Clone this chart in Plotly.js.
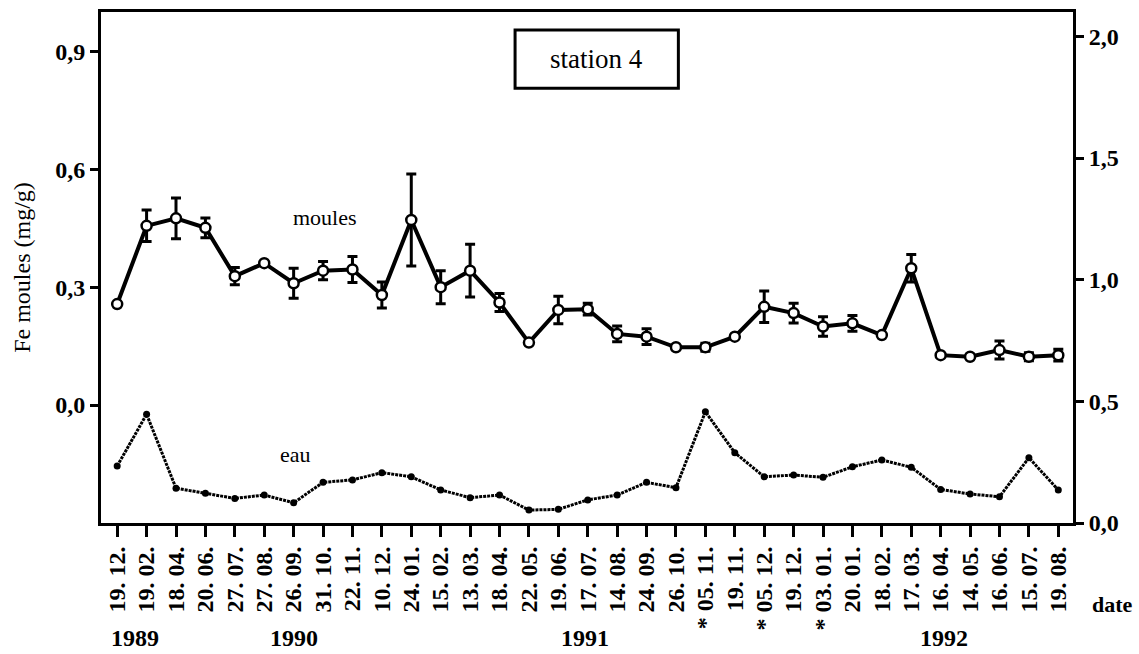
<!DOCTYPE html>
<html>
<head>
<meta charset="utf-8">
<script src="https://cdn.plot.ly/plotly-3.0.1.min.js"></script>
<style>html,body{margin:0;padding:0;background:#fff;}#chart{width:1139px;height:654px;}</style>
</head>
<body>
<div id="chart"></div>
<script>
// Sampling dates (tick labels), in order
const dates = ["19. 12.","19. 02.","18. 04.","20. 06.","27. 07.","27. 08.","26. 09.","31. 10.","22. 11.","10. 12.",
  "24. 01.","15. 02.","13. 03.","18. 04.","22. 05.","19. 06.","17. 07.","14. 08.","24. 09.","26. 10.",
  "* 05. 11.","19. 11.","* 05. 12.","19. 12.","* 03. 01.","20. 01.","18. 02.","17. 03.","16. 04.","14. 05.",
  "16. 06.","15. 07.","19. 08."];
// Fe in mussels (mg/g), left axis
const moules = [0.257,0.456,0.475,0.451,0.328,0.361,0.31,0.342,0.345,0.28,
  0.471,0.30,0.342,0.261,0.159,0.242,0.244,0.181,0.174,0.147,
  0.147,0.174,0.25,0.234,0.20,0.208,0.178,0.348,0.127,0.123,
  0.14,0.123,0.127];
const moulesErr = [0,0.04,0.052,0.025,0.022,0,0.038,0.023,0.033,0.033,
  0.117,0.042,0.067,0.023,0,0.035,0.015,0.02,0.02,0,
  0.01,0,0.04,0.025,0.025,0.02,0,0.035,0,0,
  0.023,0.01,0.015];
// Fe in water, right axis
const eau = [0.234,0.447,0.143,0.122,0.101,0.115,0.083,0.167,0.177,0.207,
  0.19,0.136,0.104,0.115,0.053,0.056,0.095,0.115,0.167,0.145,
  0.457,0.289,0.19,0.197,0.188,0.231,0.259,0.229,0.138,0.119,
  0.108,0.268,0.136];
const leftTicks = [0, 0.3, 0.6, 0.9];
const leftTickText = ["0,0","0,3","0,6","0,9"];
const rightTicks = [0, 0.5, 1.0, 1.5, 2.0];
const rightTickText = ["0,0","0,5","1,0","1,5","2,0"];
const years = ["1989","1990","1991","1992"];
const yearPos = [0.6, 6.0, 15.9, 28.1];

const xIdx = dates.map((d, i) => i);
const FONT = "Liberation Serif, Times New Roman, serif";

const traces = [
  {
    x: xIdx, y: moules, yaxis: "y", type: "scatter", mode: "lines+markers",
    line: {color: "#000", width: 4},
    marker: {symbol: "circle", size: 10, color: "#fff", line: {color: "#000", width: 2.5}},
    error_y: {type: "data", array: moulesErr, visible: true, color: "#000", thickness: 3, width: 5},
    showlegend: false, cliponaxis: false
  },
  {
    x: xIdx, y: eau, yaxis: "y2", type: "scatter", mode: "lines+markers",
    line: {color: "#000", width: 3, dash: "3px,1px"},
    marker: {symbol: "circle", size: 7, color: "#000"},
    showlegend: false, cliponaxis: false
  }
];

function ann(xref, yref, x, y, text, size, bold, yanchor) {
  return {xref: xref, yref: yref, x: x, y: y, text: text, showarrow: false,
    xanchor: "center", yanchor: yanchor || "middle",
    font: {family: FONT, size: size, color: "#000", weight: bold ? "bold" : "normal"}};
}
const annotations = [
  ann("x", "y", 7.07, 0.476, "moules", 22, false),
  ann("x", "y2", 6.05, 0.28, "eau", 22, false),
  ann("paper", "paper", 0.510, 0.908, "station 4", 27, false),
  ann("paper", "paper", 1.041, -0.160, "date", 22, true)
];
years.forEach((yr, i) => {
  annotations.push(ann("x", "paper", yearPos[i], -0.2545, yr, 24, true, "bottom"));
});

const layout = {
  width: 1139, height: 654,
  margin: {l: 101, r: 66, t: 12, b: 131},
  paper_bgcolor: "#fff", plot_bgcolor: "#fff",
  font: {family: FONT, color: "#000"},
  xaxis: {
    range: [-0.55, 32.5], tickmode: "array", tickvals: xIdx, ticktext: dates,
    tickangle: -90, tickfont: {family: FONT, size: 24, color: "#000", weight: "bold"},
    showgrid: false, zeroline: false, showline: true, mirror: true, linecolor: "#000", linewidth: 3,
    ticks: "outside", ticklen: 11, tickwidth: 3, tickcolor: "#000", automargin: false
  },
  yaxis: {
    range: [-0.3, 1.0], tickmode: "array", tickvals: leftTicks, ticktext: leftTickText,
    tickfont: {family: FONT, size: 24, color: "#000", weight: "bold"},
    showgrid: false, zeroline: false, showline: true, linecolor: "#000", linewidth: 3,
    ticks: "outside", ticklen: 8, tickwidth: 3, tickcolor: "#000", automargin: false,
    title: {text: "Fe moules (mg/g)", font: {family: FONT, size: 24, color: "#000"}, standoff: 18}
  },
  yaxis2: {
    range: [0, 2.1], overlaying: "y", side: "right", tickmode: "array",
    tickvals: rightTicks, ticktext: rightTickText,
    tickfont: {family: FONT, size: 24, color: "#000", weight: "bold"},
    showgrid: false, zeroline: false, showline: true, linecolor: "#000", linewidth: 3,
    ticks: "outside", ticklen: 8, tickwidth: 3, tickcolor: "#000", automargin: false
  },
  shapes: [
    {type: "rect", xref: "paper", yref: "paper", x0: 0.426, x1: 0.594, y0: 0.851, y1: 0.965,
     line: {color: "#000", width: 3}, fillcolor: "rgba(0,0,0,0)"}
  ],
  annotations: annotations
};

Plotly.newPlot("chart", traces, layout, {displayModeBar: false, staticPlot: true});
</script>
</body>
</html>
